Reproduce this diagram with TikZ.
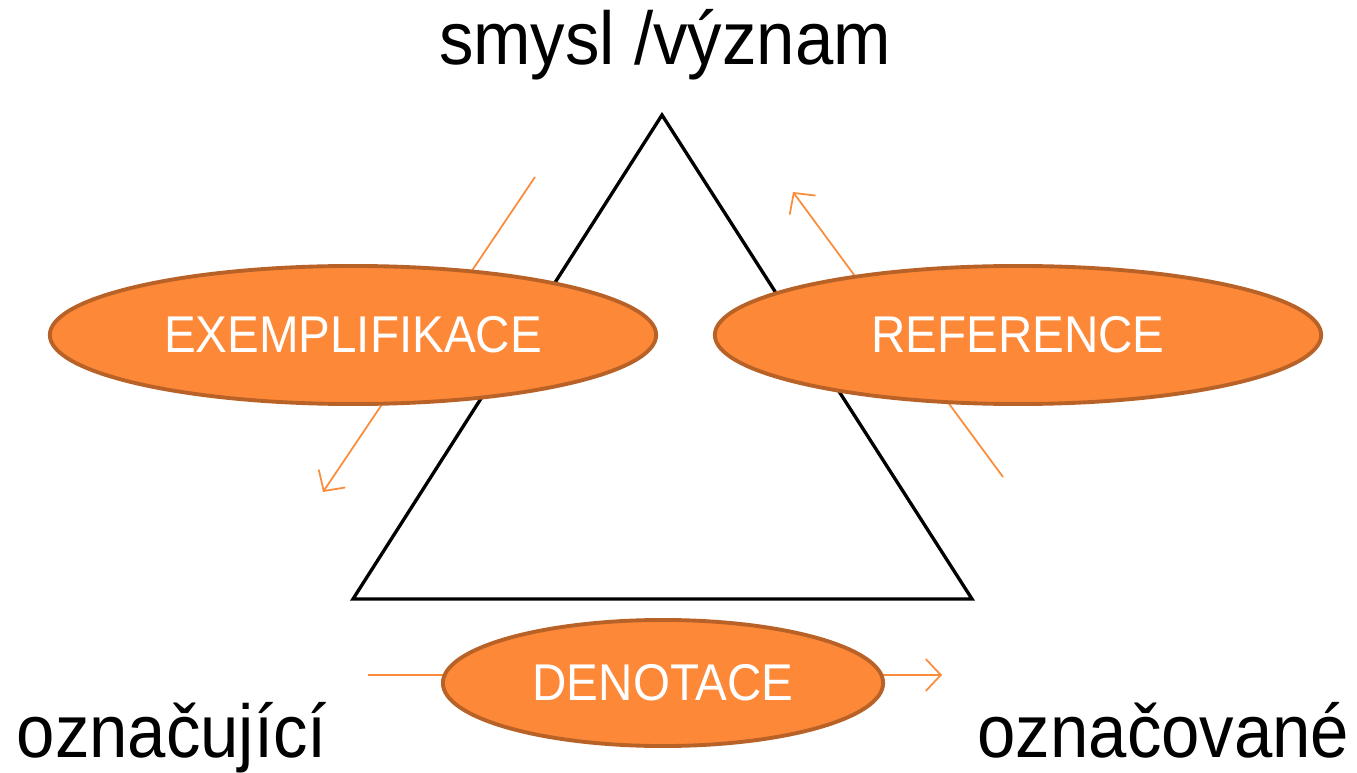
\documentclass[tikz,border=0pt]{standalone}
\usepackage{fontspec}
\setmainfont{Liberation Sans}[FakeStretch=0.92]
\usetikzlibrary{shapes.geometric,arrows.meta}
\definecolor{orfill}{RGB}{253,136,56}
\definecolor{orborder}{RGB}{185,98,40}
\definecolor{orline}{RGB}{250,140,60}
\tikzset{
  bubble/.style={ellipse, fill=orfill, draw=orborder, line width=1.1pt, inner sep=0pt,
    text=white, font=\fontsize{14.7}{17}\selectfont},
  relarrow/.style={draw=orline, line width=0.5pt, -{Straight Barb[length=1.5mm,width=3.2mm]}},
  bigtext/.style={inner sep=0pt, font=\fontsize{21.3}{25}\selectfont},
  tri/.style={draw=black, line width=0.95pt, line join=miter}
}
\begin{document}
\begin{tikzpicture}[x=0.01cm,y=-0.01cm]
\useasboundingbox (0,0) rectangle (1357,773);
% triangle
\coordinate (A) at (662,115);
\coordinate (B) at (353,599);
\coordinate (C) at (972,599);
\draw[tri] (A) -- (B) -- (C) -- cycle;
% arrows
\coordinate (e1) at (535,177);
\coordinate (e2) at (323,492);
\coordinate (r1) at (1003,477);
\coordinate (r2) at (793,192);
\coordinate (d1) at (368,675);
\coordinate (d2) at (942,675);
\draw[relarrow] (e1) -- (e2);
\draw[relarrow] (r1) -- (r2);
\draw[relarrow] (d1) -- (d2);
% bubbles
\node[bubble, minimum width=6.06cm, minimum height=1.38cm] (exe) at (353,335) {EXEMPLIFIKACE};
\node[bubble, minimum width=6.06cm, minimum height=1.38cm] (ref) at (1018,335) {REFERENCE};
\node[bubble, minimum width=4.40cm, minimum height=1.26cm] (den) at (663,683) {DENOTACE};
% labels
\node[bigtext, anchor=base] (top) at (665,65) {smysl /význam};
\node[bigtext, anchor=base west] (left) at (16,757) {označující};
\node[bigtext, anchor=base east] (right) at (1350,757) {označované};
\end{tikzpicture}
\end{document}
